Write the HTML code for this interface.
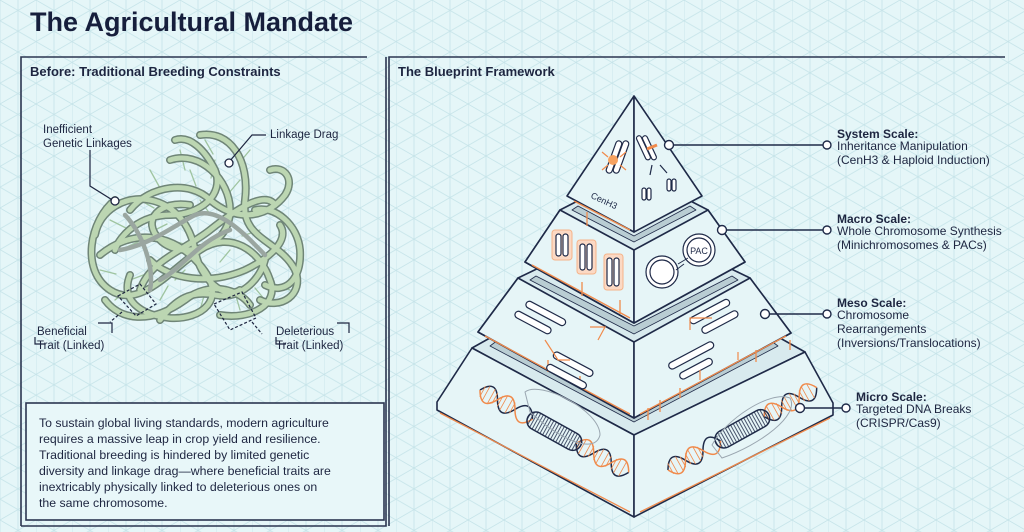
<!DOCTYPE html>
<html><head><meta charset="utf-8"><style>
html,body{margin:0;padding:0;}
body{width:1024px;height:532px;overflow:hidden;background:#e5f6f8;font-family:"Liberation Sans",sans-serif;}
svg{display:block}
</style></head><body>
<svg width="1024" height="532" viewBox="0 0 1024 532" xmlns="http://www.w3.org/2000/svg" font-family="Liberation Sans, sans-serif">
<defs>
<pattern id="g" width="36" height="20.8" patternUnits="userSpaceOnUse">
<path d="M0 0L36 20.8M0 20.8L36 0M0 0V20.8M18 0V20.8" stroke="#c6e4e9" stroke-width="0.8" fill="none"/>
</pattern>
<pattern id="hatch" width="3" height="10" patternUnits="userSpaceOnUse">
<path d="M1.5 0V10" stroke="#1f2a48" stroke-width="0.8"/>
</pattern>
<g id="helix">
<path d="M0 0q10 -18 20 0t20 0t20 0M110 0q10 18 20 0t20 0t20 0" fill="none" stroke="#1f2a48" stroke-width="1.5"/>
<path d="M0 0q10 18 20 0t20 0t20 0M110 0q10 -18 20 0t20 0t20 0" fill="none" stroke="#f08a4b" stroke-width="1.5"/>
<path d="M3 -6V6M7 -8V8M13 -8V8M17 -6V6M23 -6V6M27 -8V8M33 -8V8M37 -6V6M113 -6V6M117 -8V8M123 -8V8M127 -6V6M133 -6V6M137 -8V8M143 -8V8M147 -6V6M153 -6V6M157 -8V8M163 -8V8" stroke="#f08a4b" stroke-width="0.8"/>
<rect x="55" y="-9" width="60" height="18" rx="9" fill="url(#hatch)" stroke="#1f2a48" stroke-width="1.5"/>
</g>
</defs>
<rect width="1024" height="532" fill="#e5f6f8"/>
<rect width="1024" height="532" fill="url(#g)"/>
<text x="30" y="31" font-size="27" font-weight="bold" fill="#161e3c">The Agricultural Mandate</text>

<g stroke="#2b3550" stroke-width="1.6" fill="none">
<path d="M21 526V57H367"/>
<path d="M21 526H386V57"/>
<path d="M389 526V57H1005"/>
</g>
<text x="30" y="76" font-size="13" font-weight="bold" fill="#1d2540">Before: Traditional Breeding Constraints</text>
<text x="398" y="76" font-size="13" font-weight="bold" fill="#1d2540">The Blueprint Framework</text>

<!-- DNA tangle -->
<g fill="none" stroke-linecap="round">
<g stroke="#9fc4a0" stroke-width="1.3">
<path d="M110 220l20 10M120 250l18 -8M150 170l10 18M180 150l5 20M240 180l-12 14M260 230l-18 6M270 270l-16 -4M220 300l-6 -16M160 300l8 -14M130 280l16 -6M200 200l10 14M230 250l-10 12M170 240l14 4M250 150l-10 12M290 290l-16 -6M140 200l14 8M200 310l4 -14M280 200l-14 10M100 270l16 4M115 300l12 -10M190 170l6 16M215 160l-4 18M265 300l-10 -12M285 250l-16 4M175 280l10 -10M240 310l-4 -14M205 140l8 14M155 230l12 -6M225 220l10 8"/>
</g>
<g stroke="#6f8577" stroke-width="8">
<path id="s1" d="M115 200C90 220 80 270 110 290C140 310 170 270 200 250C230 230 260 250 270 280C280 305 250 320 220 315"/>
<path id="s2" d="M170 160C200 150 230 180 230 210C230 250 180 260 160 240C140 220 160 200 190 205"/>
<path id="s3" d="M200 135C230 130 250 160 245 200C240 240 280 240 295 270C305 295 280 310 260 300"/>
<path id="s4" d="M100 255C130 230 170 230 200 265C230 300 200 320 170 318C140 315 120 300 130 275"/>
<path id="s5" d="M130 210C150 185 190 180 210 200C240 225 270 215 285 195C295 180 285 165 270 170"/>
<path id="s6" d="M150 260C170 280 210 285 245 270C270 258 290 240 280 225"/>
<path id="s7" d="M105 300C120 320 150 325 185 300C210 280 240 290 250 305"/>
<path id="s8" d="M175 140C190 135 205 150 215 170C225 195 200 215 170 215C140 215 120 235 115 250"/>
<path id="s9" d="M255 210C275 205 298 225 300 250C302 280 285 295 265 285"/>
<path id="s10" d="M140 290C150 260 185 250 210 230C235 210 265 190 275 205"/>
<path id="s11" d="M95 235C100 210 125 195 150 200C175 205 190 225 195 250C200 280 225 300 240 290"/>
<path id="s12" d="M160 320C175 300 190 290 215 295C240 300 260 280 265 260"/>
</g>
<g stroke="#bcd6b2" stroke-width="5">
<use href="#s1"/><use href="#s2"/><use href="#s3"/><use href="#s4"/><use href="#s5"/><use href="#s6"/><use href="#s7"/><use href="#s8"/><use href="#s9"/><use href="#s10"/><use href="#s11"/><use href="#s12"/>
</g>
<g stroke="#9aa6a0" stroke-width="4.5">
<path d="M120 250C150 245 175 225 195 215C220 205 250 240 265 255"/>
<path d="M160 280C180 270 200 240 230 230"/>
<path d="M125 215C140 230 155 265 150 290"/>
</g>
</g>
<g stroke="#1d2540" stroke-width="1.2" fill="none">
<path d="M90 150V186L114 201"/>
<path d="M229 162L252 135H266"/>
<path d="M118 296L140 284L156 304L136 316Z M122 312L110 322" stroke-dasharray="3 2"/>
<path d="M214 304L242 292L256 318L230 330Z M252 322L262 334" stroke-dasharray="3 2"/>
<path d="M98 323H112V333M35 337V344H45M337 323H349V333M276 337V344H286"/>
</g>
<circle cx="115" cy="201" r="4" fill="#fff" stroke="#1d2540" stroke-width="1.3"/>
<circle cx="229" cy="163" r="4" fill="#fff" stroke="#1d2540" stroke-width="1.3"/>
<g font-size="11.5" fill="#1d2540">
<text x="43" y="133">Inefficient</text><text x="43" y="147">Genetic Linkages</text>
<text x="270" y="138">Linkage Drag</text>
<text x="37" y="335">Beneficial</text><text x="37" y="349">Trait (Linked)</text>
<text x="276" y="335">Deleterious</text><text x="276" y="349">Trait (Linked)</text>
</g>

<rect x="26" y="403" width="358" height="117" fill="#e8f7f9" stroke="#2b3550" stroke-width="1.6"/>
<g font-size="12.3" fill="#1d2540">
<text x="39" y="427">To sustain global living standards, modern agriculture</text>
<text x="39" y="443">requires a massive leap in crop yield and resilience.</text>
<text x="39" y="459">Traditional breeding is hindered by limited genetic</text>
<text x="39" y="475">diversity and linkage drag—where beneficial traits are</text>
<text x="39" y="491">inextricably physically linked to deleterious ones on</text>
<text x="39" y="507">the same chromosome.</text>
</g>

<!-- pyramid -->
<g stroke="#1f2a48" stroke-width="1.6" stroke-linejoin="round">
<!-- micro -->
<polygon points="472,348 540,310 634,300 730,310 805,352 634,435" fill="#d8eaee"/>
<polygon points="490,346 634,422 778,346 770,340 634,412 498,340" fill="#b9cdd3" stroke-width="0.8"/>
<polygon points="472,348 634,435 634,517 437,410 437,402" fill="#e6f5f7"/>
<polygon points="805,352 634,435 634,517 833,415 833,403" fill="#e6f5f7"/>
<!-- meso -->
<polygon points="518,278 634,222 750,278 791,333 634,418 478,332" fill="#d8eaee"/>
<polygon points="530,280 634,334 738,280 732,276 634,326 536,276" fill="#b9cdd3" stroke-width="0.8"/>
<polygon points="518,278 634,342 634,418 478,332" fill="#e6f5f7"/>
<polygon points="750,278 634,342 634,418 791,333" fill="#e6f5f7"/>
<!-- macro -->
<polygon points="560,210 634,172 708,210 745,262 634,323 525,262" fill="#d8eaee"/>
<polygon points="572,210 634,242 696,210 690,206 634,236 578,206" fill="#b9cdd3" stroke-width="0.8"/>
<polygon points="560,210 634,250 634,323 525,262" fill="#e6f5f7"/>
<polygon points="708,210 634,250 634,323 745,262" fill="#e6f5f7"/>
<!-- system -->
<polygon points="634,96 567,196 634,232" fill="#e6f5f7"/>
<polygon points="634,96 702,196 634,232" fill="#e6f5f7"/>
</g>
<g stroke="#f08a4b" stroke-width="1.3" fill="none">
<path d="M574 201L630 230M532 265L630 318M485 336L630 414M440 413L630 512M640 512L830 418M640 414L786 336"/>
<path d="M587 212V226M582 282V296M620 300V314M548 360V372M580 376V386M648 408V420M660 400V412M680 388V398M756 350V362M790 340V350"/>
</g>
<!-- system icons -->
<g stroke="#1f2a48" stroke-width="1.2" fill="#fff">
<rect x="611" y="140" width="6" height="34" rx="3" transform="rotate(20 614 157)"/>
<rect x="618" y="140" width="6" height="34" rx="3" transform="rotate(20 621 157)"/>
<rect x="641" y="135" width="5" height="26" rx="2.5" transform="rotate(-25 643 148)"/>
<rect x="647" y="135" width="5" height="26" rx="2.5" transform="rotate(-25 649 148)"/>
<rect x="642" y="188" width="4" height="12" rx="2"/><rect x="647" y="188" width="4" height="12" rx="2"/>
<rect x="667" y="179" width="4" height="12" rx="2"/><rect x="672" y="179" width="4" height="12" rx="2"/>
</g>
<circle cx="613" cy="160" r="5" fill="#f7a260"/>
<path d="M602 152l6 5M626 152l-6 5M602 170l6 -5M626 170l-6 -5" stroke="#f08a4b" stroke-width="1.2"/>
<path d="M647 149l10 -4" stroke="#f08a4b" stroke-width="3"/>
<path d="M652 165l-2 10M660 165l7 8" stroke="#1f2a48" stroke-width="1.2"/>
<text x="590" y="202" font-size="9" fill="#1f2a48" transform="rotate(25 600 200)">CenH3</text>
<!-- macro icons -->
<g fill="#fbd9c4" stroke="#f5b48a" stroke-width="1">
<rect x="552" y="230" width="20" height="30" rx="3"/><rect x="577" y="240" width="19" height="34" rx="3"/><rect x="604" y="254" width="19" height="36" rx="3"/>
</g>
<g stroke="#1f2a48" stroke-width="1.2" fill="#fff">
<rect x="556" y="234" width="5" height="22" rx="2.5"/><rect x="563" y="234" width="5" height="22" rx="2.5"/>
<rect x="580" y="244" width="5" height="26" rx="2.5"/><rect x="587" y="244" width="5" height="26" rx="2.5"/>
<rect x="607" y="258" width="5" height="28" rx="2.5"/><rect x="614" y="258" width="5" height="28" rx="2.5"/>
<circle cx="662" cy="272" r="16"/><circle cx="662" cy="272" r="12"/>
<circle cx="699" cy="250" r="16"/><circle cx="699" cy="250" r="12"/>
</g>
<text x="699" y="254" font-size="9" text-anchor="middle" fill="#1f2a48">PAC</text>
<path d="M678 264L688 258M684 264L676 270" stroke="#1f2a48" stroke-width="1"/>
<!-- meso icons -->
<g stroke="#1f2a48" stroke-width="1.2" fill="#fff">
<g transform="rotate(28 540 320)">
<rect x="520" y="308" width="44" height="7" rx="3.5"/><rect x="515" y="322" width="40" height="7" rx="3.5"/>
<rect x="568" y="340" width="44" height="7" rx="3.5"/><rect x="568" y="354" width="44" height="7" rx="3.5"/>
</g>
<g transform="rotate(-28 700 340)">
<rect x="660" y="346" width="50" height="7" rx="3.5"/><rect x="665" y="360" width="36" height="7" rx="3.5"/>
<rect x="700" y="316" width="44" height="7" rx="3.5"/><rect x="706" y="330" width="40" height="7" rx="3.5"/>
</g>
</g>
<path d="M545 340L558 360H570M590 327H605L598 340M690 330V318H712M700 380V370M738 360V352" stroke="#f08a4b" stroke-width="1.2" fill="none"/>
<!-- micro DNA -->
<use href="#helix" transform="translate(480 390) rotate(29)"/>
<use href="#helix" transform="translate(668 470) rotate(-29)"/>
<path d="M525 392C540 380 600 410 600 435C595 455 560 440 530 412Z" fill="none" stroke="#9aa6b0" stroke-width="1"/>
<path d="M712 445C725 420 770 390 790 398C800 415 760 445 722 458Z" fill="none" stroke="#9aa6b0" stroke-width="1"/>
<!-- connectors -->
<g stroke="#1f2a48" stroke-width="1.4">
<path d="M669 145H824M723 230H824M766 314H826M800 408H842"/>
</g>
<g fill="#fff" stroke="#1f2a48" stroke-width="1.4">
<circle cx="669" cy="145" r="4.5"/><circle cx="827" cy="145" r="4"/>
<circle cx="722" cy="230" r="4.5"/><circle cx="827" cy="230" r="4"/>
<circle cx="765" cy="314" r="4.5"/><circle cx="827" cy="314" r="4"/>
<circle cx="800" cy="408" r="4.5"/><circle cx="846" cy="408" r="4"/>
</g>
<g font-size="12" fill="#1d2540">
<text x="837" y="138" font-weight="bold">System Scale:</text>
<text x="837" y="150">Inheritance Manipulation</text>
<text x="837" y="164">(CenH3 &amp; Haploid Induction)</text>
<text x="837" y="223" font-weight="bold">Macro Scale:</text>
<text x="837" y="235">Whole Chromosome Synthesis</text>
<text x="837" y="249">(Minichromosomes &amp; PACs)</text>
<text x="837" y="307" font-weight="bold">Meso Scale:</text>
<text x="837" y="319">Chromosome</text>
<text x="837" y="333">Rearrangements</text>
<text x="837" y="347">(Inversions/Translocations)</text>
<text x="856" y="401" font-weight="bold">Micro Scale:</text>
<text x="856" y="413">Targeted DNA Breaks</text>
<text x="856" y="427">(CRISPR/Cas9)</text>
</g>
</svg>
</body></html>
